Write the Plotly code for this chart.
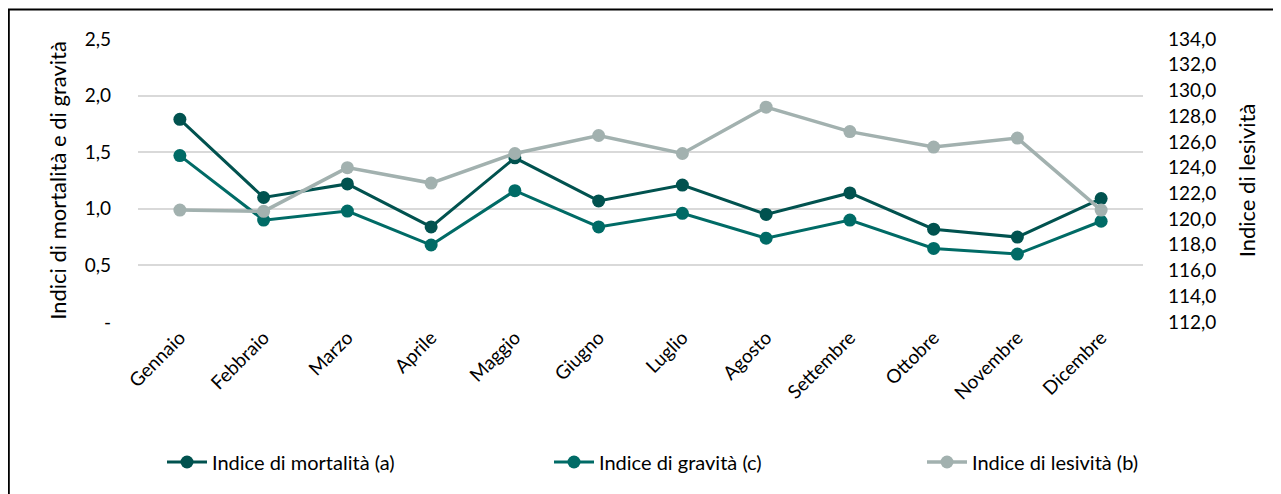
import plotly.graph_objects as go

mesi = ["Gennaio", "Febbraio", "Marzo", "Aprile", "Maggio", "Giugno",
        "Luglio", "Agosto", "Settembre", "Ottobre", "Novembre", "Dicembre"]
mortalita = [1.79, 1.10, 1.22, 0.84, 1.45, 1.07, 1.21, 0.95, 1.14, 0.82, 0.75, 1.09]
gravita = [1.47, 0.90, 0.98, 0.68, 1.16, 0.84, 0.96, 0.74, 0.90, 0.65, 0.60, 0.89]
lesivita = [120.7, 120.6, 124.0, 122.8, 125.1, 126.5, 125.1, 128.7, 126.8, 125.6, 126.3, 120.7]

left_tickvals = [0, 0.5, 1.0, 1.5, 2.0, 2.5]
left_ticktext = ["-", "0,5", "1,0", "1,5", "2,0", "2,5"]

C_MORT = "#01524F"
C_GRAV = "#006B66"
C_LES = "#A2B1AF"

# page has an 8px body margin, figure coordinates are page - 8
W, H = 1281, 494
L, R, T, B = 130, 146, 31, 180
pw = W - L - R
ph = H - T - B


def px_x(p):
    return (p - L) / pw


def px_y(p):
    return (T + ph - p) / ph


fig = go.Figure()
fig.add_trace(go.Scatter(x=mesi, y=mortalita, name="Indice di mortalità (a)",
                         mode="lines+markers", line=dict(color=C_MORT, width=3),
                         marker=dict(color=C_MORT, size=13), legend="legend"))
fig.add_trace(go.Scatter(x=mesi, y=gravita, name="Indice di gravità (c)",
                         mode="lines+markers", line=dict(color=C_GRAV, width=3),
                         marker=dict(color=C_GRAV, size=13), legend="legend2"))
fig.add_trace(go.Scatter(x=mesi, y=lesivita, name="Indice di lesività (b)",
                         mode="lines+markers", line=dict(color=C_LES, width=3.5),
                         marker=dict(color=C_LES, size=13), yaxis="y2", legend="legend3"))

font_main = "Lato, Open Sans, sans-serif"
leg_font = dict(family=font_main, size=20, color="#000000")


def leg(xpix):
    return dict(orientation="h", x=px_x(xpix), xanchor="left", y=px_y(454), yanchor="middle",
                font=leg_font, itemwidth=40, bgcolor="rgba(0,0,0,0)")


fig.update_layout(
    width=W, height=H,
    margin=dict(l=L, r=R, t=T, b=B, autoexpand=False),
    paper_bgcolor="white", plot_bgcolor="white",
    separators=",.",
    font=dict(family=font_main, size=19, color="#000000"),
    showlegend=True,
    legend=leg(154),
    legend2=leg(541),
    legend3=leg(914),
    xaxis=dict(tickangle=-45, showgrid=False, showline=False, ticks="",
               tickfont=dict(size=19), range=[-0.5, 11.5], automargin=False),
    yaxis=dict(range=[0, 2.5], tickvals=left_tickvals, ticktext=left_ticktext,
               showgrid=True, gridcolor="#D9D9D9", gridwidth=1.5, zeroline=False,
               showline=False, ticks="", ticklabelstandoff=26, automargin=False,
               tickfont=dict(size=19),
               title=dict(text="Indici di mortalità e di gravità", font=dict(size=22), standoff=11)),
    yaxis2=dict(range=[112, 134], dtick=2, tickformat=".1f", overlaying="y", side="right",
                showgrid=False, zeroline=False, showline=False, ticks="",
                ticklabelstandoff=24, automargin=False, tickfont=dict(size=19),
                title=dict(text="Indice di lesività", font=dict(size=22), standoff=24)),
)

fig.add_shape(type="line", xref="paper", yref="paper",
              x0=px_x(0), x1=px_x(1290), y0=px_y(1.5), y1=px_y(1.5),
              line=dict(color="black", width=2))
fig.add_shape(type="line", xref="paper", yref="paper",
              x0=px_x(0.8), x1=px_x(0.8), y0=px_y(1.5), y1=px_y(500),
              line=dict(color="black", width=2))

fig.write_html("out.html")
